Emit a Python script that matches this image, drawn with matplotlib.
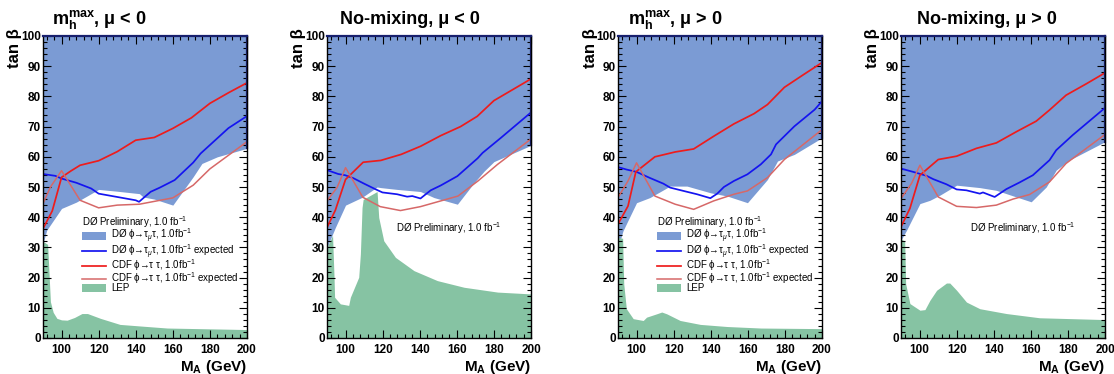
import matplotlib
matplotlib.use("Agg")
import matplotlib.pyplot as plt
from matplotlib.ticker import MultipleLocator

plt.rcParams['font.family'] = ['Liberation Sans', 'DejaVu Sans']
plt.rcParams['mathtext.fontset'] = 'custom'
plt.rcParams['mathtext.rm'] = 'Liberation Sans'
plt.rcParams['mathtext.it'] = 'Liberation Sans:italic'
plt.rcParams['mathtext.bf'] = 'Liberation Sans:bold'
plt.rcParams['mathtext.fallback'] = 'stixsans'

# ---- data (M_A in GeV, tan beta) ----
titles = [r"$\mathbf{m}_{\mathbf{h}}^{\mathbf{max}}$, μ < 0",
          "No-mixing, μ < 0",
          r"$\mathbf{m}_{\mathbf{h}}^{\mathbf{max}}$, μ > 0",
          "No-mixing, μ > 0"]

# panel 1: mhmax, mu<0
p1_cdf_x = [90, 95, 100, 105, 110, 120, 130, 140, 150, 160, 170, 180, 190, 200]
p1_cdf_y = [36.2, 42.1, 53.2, 55.3, 57.2, 58.7, 61.7, 65.5, 66.4, 69.4, 72.9, 77.7, 81.2, 84.5]
p1_cdfexp_x = [90, 94, 100, 110, 120, 130, 142, 160, 171, 180, 200]
p1_cdfexp_y = [44.5, 50, 55.4, 45.6, 43.1, 44, 44.3, 46.4, 50.6, 56, 65]
p1_d0exp_x = [90, 96.6, 100, 108, 116, 120, 130, 140, 141.8, 148, 153, 161, 171, 175, 190, 200]
p1_d0exp_y = [54.3, 53.7, 52.8, 51.4, 49.5, 47.8, 46.7, 45.6, 45.1, 48.4, 49.8, 52.3, 58.1, 61.1, 69.5, 73.5]
p1_d0_x = [90, 92, 100, 108, 120, 130, 142, 144, 150, 160, 171, 175.7, 184, 200]
p1_d0_y = [31.3, 35.7, 42.9, 45, 49.2, 48.6, 47.8, 46.7, 46, 44, 53.4, 57.8, 60, 62.8]
p1_lep_x = [90, 92.5, 93.2, 94, 95.5, 97.5, 100, 103, 107, 111, 114, 121, 131.5, 142, 157, 200]
p1_lep_y = [32, 31, 22, 12, 8.5, 6.5, 6, 5.9, 6.8, 8.1, 8.1, 6.5, 4.5, 4, 3.3, 2.8]

# panel 2: no-mixing, mu<0
p2_cdf_x = [90, 94.5, 100, 109.5, 119, 130, 140.5, 151.3, 162, 171, 180, 190, 200]
p2_cdf_y = [36.6, 42.3, 52.5, 58.2, 58.8, 60.8, 63.5, 67, 70, 73.4, 78.6, 82.2, 85.8]
p2_cdfexp_x = [90, 95.4, 100, 109.3, 118.7, 129.6, 140.4, 160.6, 171.4, 182, 200]
p2_cdfexp_y = [45.4, 49.8, 56.4, 46.6, 43.5, 42.2, 43.5, 47, 52, 57.5, 65.9]
p2_d0exp_x = [90, 96.1, 99.8, 104.3, 109.7, 116, 119.9, 127.8, 133.2, 136, 140.4, 145.9, 151.3, 160.3, 171.2, 173.9, 183.8, 200]
p2_d0exp_y = [55.6, 54.3, 53.9, 52.9, 51.2, 49.3, 48.2, 47.6, 46.8, 47, 46.2, 48.9, 50.5, 53.6, 59.5, 61.3, 66.3, 74.7]
p2_d0_x = [90, 94.5, 100, 109, 117, 119, 127.8, 140.4, 147.7, 160.3, 169.3, 174.8, 180, 200]
p2_d0_y = [30, 36.6, 44, 46.6, 50, 49.8, 49.2, 48.5, 46.5, 44.3, 51.4, 55.3, 58.4, 63.8]
p2_lep_x = [90, 93, 93.8, 94.1, 97.2, 101.7, 102.6, 107.1, 108, 108.9, 109.5, 117, 117.9, 120.6, 126.9, 136.9, 149.5, 163.9, 182, 200]
p2_lep_y = [30, 34, 20, 13.5, 11.3, 10.8, 13.5, 20.1, 27.8, 43.2, 45.9, 48.5, 39.9, 32.2, 26.7, 22.3, 19, 16.8, 15.2, 14.6]

# panel 3: mhmax, mu>0
p3_cdf_x = [90, 95.4, 99.6, 109.9, 120.8, 130.8, 141.6, 152.5, 163.4, 170.6, 179.7, 190, 200]
p3_cdf_y = [37.7, 43.7, 55, 60, 61.6, 62.6, 66.8, 70.9, 74.3, 77.3, 83, 87.2, 91.2]
p3_cdfexp_x = [90, 95.4, 100, 109.9, 120.8, 130.8, 141.6, 152.5, 159.8, 170.6, 179.7, 200]
p3_cdfexp_y = [46.5, 52, 58, 47, 44.3, 42.6, 45.4, 47.6, 48.7, 53.1, 59.1, 69]
p3_d0exp_x = [90, 94.5, 100, 107.2, 114.5, 118.1, 125.3, 132.6, 139.8, 143.5, 147.1, 152.5, 159.8, 167, 172.5, 175.2, 185.1, 196, 200]
p3_d0exp_y = [56.6, 55.8, 55, 53, 51.1, 49.8, 48.7, 47.6, 46.3, 47.8, 50, 52, 54.2, 57.5, 60.8, 64.1, 70.1, 75.6, 78.4]
p3_d0_x = [90, 92.7, 100, 107.2, 118.1, 127.2, 139.8, 148.9, 159.8, 170.6, 176, 185.1, 200]
p3_d0_y = [30, 35.5, 44.8, 46.5, 50.3, 50.3, 48.1, 47, 44.8, 52.5, 58.6, 60.8, 66.3]
p3_lep_x = [90, 92.5, 93.1, 94.5, 98.2, 103.6, 105.4, 110.8, 113.6, 116.3, 123.5, 134.4, 148.9, 167, 200]
p3_lep_y = [33.3, 33, 17.9, 9.7, 6.4, 5.8, 6.9, 8, 8.6, 8, 5.8, 4.5, 3.8, 3.3, 3.1]

# panel 4: no-mixing, mu>0
p4_cdf_x = [90, 94.8, 100.2, 110.1, 120, 130.7, 141.4, 152.2, 162.9, 170.1, 179, 190, 200]
p4_cdf_y = [36.8, 42.9, 53.9, 59.1, 60.2, 62.8, 64.6, 68.3, 71.8, 75.5, 80.4, 84.2, 87.8]
p4_cdfexp_x = [90, 95.7, 100.2, 110.1, 120, 130.7, 141.4, 150.4, 159.3, 170.1, 179, 200]
p4_cdfexp_y = [46.2, 51.2, 57.2, 46.7, 43.6, 43.2, 44, 46, 47.5, 51.7, 57.8, 67.4]
p4_d0exp_x = [90, 96.6, 103.8, 107.4, 114.5, 120, 125.3, 132.5, 134.2, 140.5, 146.8, 153.9, 161.1, 170.1, 173.7, 182.6, 200]
p4_d0exp_y = [56.1, 55, 53.7, 52.6, 50.9, 49.2, 48.9, 47.8, 48.2, 46.7, 49.3, 51.5, 53.9, 58.9, 62.2, 67.2, 76.2]
p4_d0_x = [90, 93, 100.2, 105.6, 111, 120, 132.5, 141.4, 152.2, 160.2, 168.3, 173.7, 180.8, 200]
p4_d0_y = [32.4, 35.7, 44.5, 45.6, 47.3, 50.6, 49.8, 48.9, 46.7, 45.1, 50, 55.6, 58.9, 65]
p4_lep_x = [90, 92, 92.5, 94.8, 100.2, 102.9, 105.6, 109.2, 114.5, 116.3, 120, 125.3, 132.5, 146.8, 164.7, 200]
p4_lep_y = [32.9, 32, 18, 11.4, 9.2, 9.4, 12.5, 15.8, 18.2, 18.2, 15.8, 11.9, 9.7, 8.1, 6.7, 6.1]

panels = [
    (p1_d0_x, p1_d0_y, p1_lep_x, p1_lep_y, p1_d0exp_x, p1_d0exp_y, p1_cdf_x, p1_cdf_y, p1_cdfexp_x, p1_cdfexp_y),
    (p2_d0_x, p2_d0_y, p2_lep_x, p2_lep_y, p2_d0exp_x, p2_d0exp_y, p2_cdf_x, p2_cdf_y, p2_cdfexp_x, p2_cdfexp_y),
    (p3_d0_x, p3_d0_y, p3_lep_x, p3_lep_y, p3_d0exp_x, p3_d0exp_y, p3_cdf_x, p3_cdf_y, p3_cdfexp_x, p3_cdfexp_y),
    (p4_d0_x, p4_d0_y, p4_lep_x, p4_lep_y, p4_d0exp_x, p4_d0exp_y, p4_cdf_x, p4_cdf_y, p4_cdfexp_x, p4_cdfexp_y),
]

header = "DØ Preliminary, 1.0 fb$^{-1}$"
labels = ["DØ \u03d5\u2192\u03c4$_{\\mu}$\u03c4, 1.0fb$^{-1}$",
          "DØ \u03d5\u2192\u03c4$_{\\mu}$\u03c4, 1.0fb$^{-1}$ expected",
          "CDF \u03d5\u2192\u03c4 \u03c4, 1.0fb$^{-1}$",
          "CDF \u03d5\u2192\u03c4 \u03c4, 1.0fb$^{-1}$ expected",
          "LEP"]

blue_fill = '#7b9bd4'
green_fill = '#86c3a3'
navy = '#18206e'

# layout (pixels of the 1114x374 canvas)
W, H = 1114, 374
ax_left = [43, 327, 618, 901]
ax_w, ax_bot, ax_h = 204, 36, 302
title_dx = [9, 13, 10, 16]
show_legend = [True, False, True, False]

fig = plt.figure(figsize=(W / 100, H / 100), dpi=100)

for i, (d0x, d0y, lx, ly, ex, ey, cx, cy, cex, cey) in enumerate(panels):
    ax = fig.add_axes([ax_left[i] / W, ax_bot / H, ax_w / W, ax_h / H])

    hd0 = ax.fill_between(d0x, d0y, 100, color=blue_fill, lw=0)
    hlep = ax.fill_between(lx, 0, ly, color=green_fill, lw=0)
    hexp, = ax.plot(ex, ey, color='#1414f0', lw=1.25)
    hcdf, = ax.plot(cx, cy, color='#ee1c1c', lw=1.25)
    hcdfe, = ax.plot(cex, cey, color='#d66868', lw=1.1)
    # dark edge of the D0 region along the right frame
    ax.plot([d0x[-1], d0x[-1]], [d0y[-1], 100], color=navy, lw=1.6, clip_on=False)

    ax.set_xlim(90, 200)
    ax.set_ylim(0, 100)
    ax.xaxis.set_major_locator(MultipleLocator(20))
    ax.xaxis.set_minor_locator(MultipleLocator(4))
    ax.yaxis.set_major_locator(MultipleLocator(10))
    ax.yaxis.set_minor_locator(MultipleLocator(2))
    ax.tick_params(which='both', direction='in', top=True, right=True, width=0.8, color='black')
    ax.tick_params(which='major', length=5.5)
    ax.tick_params(which='minor', length=2.8)
    ax.tick_params(axis='x', pad=4)
    ax.tick_params(axis='y', pad=1.5)
    for lab in ax.get_xticklabels() + ax.get_yticklabels():
        lab.set_fontweight('bold')
        lab.set_fontsize(8.5)
    for s in ax.spines.values():
        s.set_linewidth(1.0)
    ax.spines['top'].set_color(navy)
    ax.spines['top'].set_linewidth(1.6)

    ax.text(title_dx[i] / ax_w, 1 + 12 / ax_h, titles[i], transform=ax.transAxes,
            fontsize=13, fontweight='bold', ha='left', va='baseline')
    ax.text(-28 / ax_w, 1 + 8 / ax_h, "tan β", transform=ax.transAxes,
            fontsize=12, fontweight='bold', rotation=90, ha='center', va='top')
    ax.text(1.0, -20 / ax_h, r"$\mathbf{M_A}$ (GeV)", transform=ax.transAxes,
            fontsize=11, fontweight='bold', ha='right', va='top')

    if show_legend[i]:
        leg = ax.legend([hd0, hexp, hcdf, hcdfe, hlep], labels, title=header,
                        loc='upper left', bbox_to_anchor=(0.19, 0.41),
                        frameon=False, fontsize=7, title_fontsize=7,
                        handlelength=2.5, handleheight=0.85, handletextpad=0.5,
                        labelspacing=-0.3, borderpad=0, borderaxespad=0,
                        alignment='left')
    else:
        ax.text(127, 36.4, header, fontsize=7, ha='left', va='center')

fig.savefig('out.png', dpi=100)
